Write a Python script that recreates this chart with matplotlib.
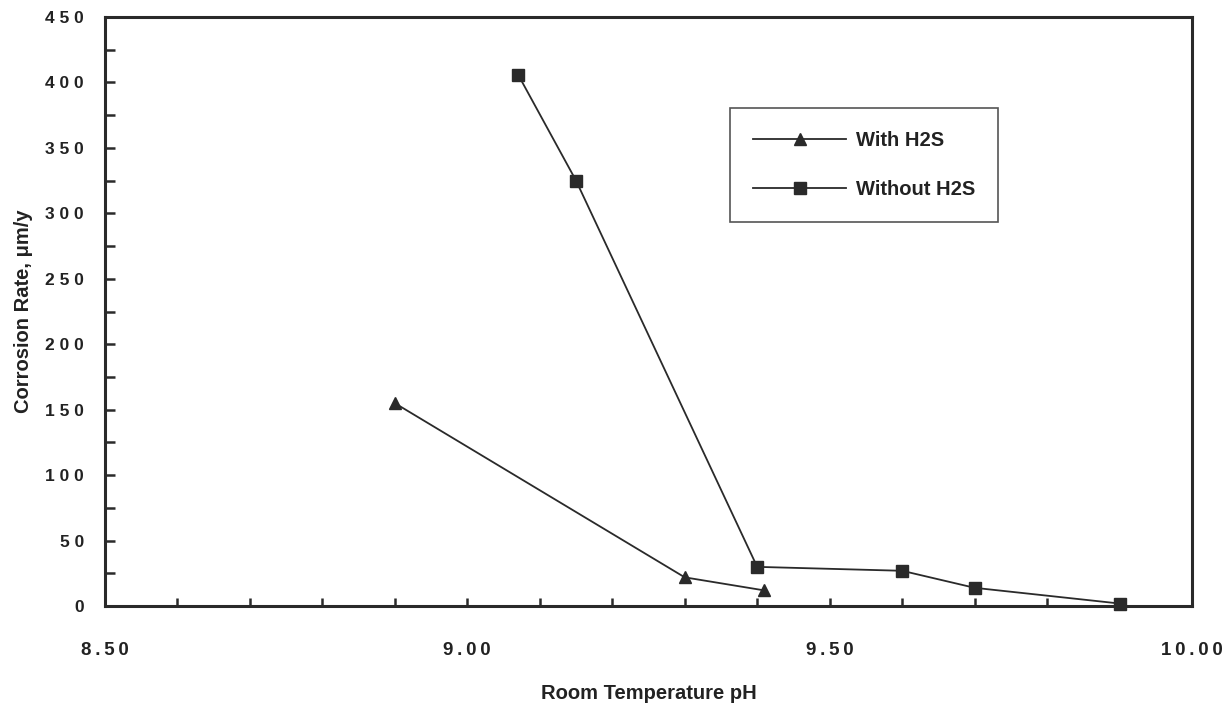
import matplotlib
matplotlib.use("Agg")
import matplotlib.pyplot as plt
from matplotlib.ticker import MultipleLocator, FixedLocator

ph_with = [8.90, 9.30, 9.41]
rate_with = [155, 22, 12]
ph_without = [9.07, 9.15, 9.40, 9.60, 9.70, 9.90]
rate_without = [406, 325, 30, 27, 14, 2]

x_major = [8.50, 9.00, 9.50, 10.00]
y_major = [0, 50, 100, 150, 200, 250, 300, 350, 400, 450]

plt.rcParams['font.family'] = ['Liberation Sans', 'DejaVu Sans']
ink = '#2a2a2a'

fig = plt.figure(figsize=(12.26, 7.04), dpi=100)
ax = fig.add_axes([0.0856, 0.139, 0.8867, 0.837])

ax.plot(ph_with, rate_with, color=ink, lw=1.3, marker='^', ms=8.5,
        mfc=ink, mec=ink, label='With H2S', clip_on=False)
ax.plot(ph_without, rate_without, color=ink, lw=1.3, marker='s', ms=8,
        mfc=ink, mec=ink, label='Without H2S', clip_on=False)

ax.set_xlim(8.5, 10.0)
ax.set_ylim(0, 450)
ax.xaxis.set_major_locator(FixedLocator(x_major))
ax.xaxis.set_minor_locator(MultipleLocator(0.1))
ax.yaxis.set_major_locator(FixedLocator(y_major))
ax.yaxis.set_minor_locator(MultipleLocator(25))

def spaced(s, sep):
    return sep.join(list(s))

ax.set_xticklabels([spaced('%.2f' % v, '\u2009') for v in x_major])
ax.set_yticklabels([spaced('%d' % v, ' ') for v in y_major])

ax.tick_params(axis='x', which='both', direction='in', length=6, width=1.8,
               color=ink, pad=26, labelsize=13.5, labelcolor='#222222')
ax.tick_params(axis='y', which='both', direction='in', length=7, width=1.8,
               color=ink, pad=15, labelsize=12.5, labelcolor='#222222')
for lab in ax.get_xticklabels() + ax.get_yticklabels():
    lab.set_fontweight('bold')

for s in ax.spines.values():
    s.set_linewidth(2.2)
    s.set_color(ink)

ax.set_xlabel('Room Temperature pH', fontsize=14.5, fontweight='bold',
              color='#222222', labelpad=18)
ax.set_ylabel('Corrosion Rate, \u03bcm/y', fontsize=14.5, fontweight='bold',
              color='#222222', labelpad=9)

leg = ax.legend(loc='upper left', bbox_to_anchor=(0.575, 0.845),
                fontsize=14.5, frameon=True, fancybox=False, handlelength=4.6,
                handletextpad=0.5, borderpad=1.15, labelspacing=1.45,
                borderaxespad=0)
leg.get_frame().set_edgecolor(ink)
leg.get_frame().set_linewidth(1.2)
for t in leg.get_texts():
    t.set_fontweight('bold')
    t.set_color('#222222')

fig.savefig('out.png', dpi=100, facecolor='white')
